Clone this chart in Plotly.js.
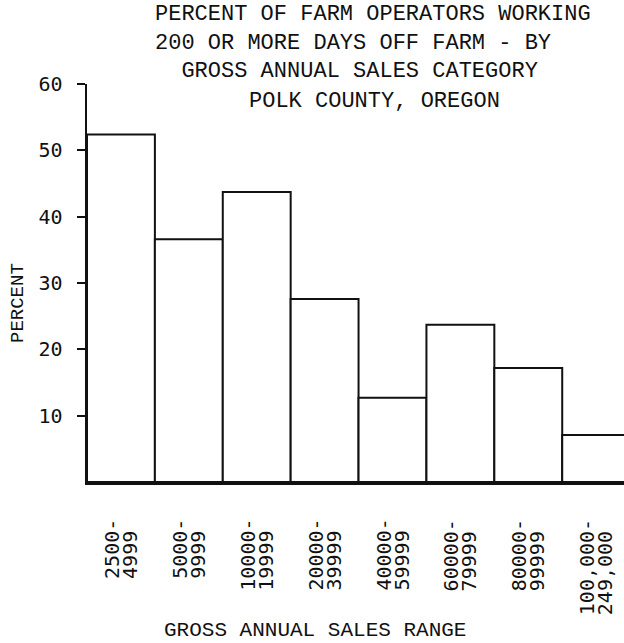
<!DOCTYPE html>
<html><head><meta charset="utf-8">
<script src="https://cdn.plot.ly/plotly-3.0.1.min.js"></script>
<style>html,body{margin:0;padding:0;background:#fff}</style>
</head><body><div id="chart" style="width:624px;height:643px"></div>
<script>
const categories = ["2500-4999","5000-9999","10000-19999","20000-39999","40000-59999","60000-79999","80000-99999","100,000-249,000"];
const percentValues = [52.4, 36.6, 43.7, 27.6, 12.7, 23.7, 17.2, 7.1];
const tickLabelTop = ["2500-","5000-","10000-","20000-","40000-","60000-","80000-","100,000-"];
const tickLabelBottom = ["4999","9999","19999","39999","59999","79999","99999","249,000"];
const yTickValues = [10,20,30,40,50,60];
const yTickText = ["10","20","30","40","50","60"];
const titleLines = ["PERCENT OF FARM OPERATORS WORKING","200 OR MORE DAYS OFF FARM - BY","\u00a0\u00a0GROSS ANNUAL SALES CATEGORY"];
const subtitle = "POLK COUNTY, OREGON";
const xTitle = "GROSS ANNUAL SALES RANGE";
const yTitle = "PERCENT";

const typeFont = {family: "Liberation Mono, Courier New, monospace", size: 22, color: "#111"};
const numFont = {family: "DejaVu Sans Mono, monospace", size: 20, color: "#111"};

// plot area in pixels: left 87, right 624, top 84, bottom 482
const L = 87, W = 537, T = 84, H = 398;
const px = x => (x - L) / W;
const py = y => (T + H - y) / H;

const annotations = [];
annotations.push({
  text: titleLines.join("<br>"), xref: "paper", yref: "paper", x: px(153), y: py(43),
  xanchor: "left", yanchor: "middle", align: "left", showarrow: false, font: typeFont
});
annotations.push({text: subtitle, xref: "paper", yref: "paper", x: px(247), y: py(102),
  xanchor: "left", yanchor: "middle", showarrow: false, font: typeFont});
annotations.push({text: xTitle, xref: "paper", yref: "paper", x: px(162), y: py(630),
  xanchor: "left", yanchor: "middle", showarrow: false,
  font: {family: typeFont.family, size: 21, color: "#111"}});
annotations.push({text: yTitle, xref: "paper", yref: "paper", x: px(18), y: py(303),
  xanchor: "center", yanchor: "middle", textangle: -90, showarrow: false,
  font: {family: typeFont.family, size: 19, color: "#111"}});

categories.forEach((c, i) => {
  const top = tickLabelTop[i];
  const bottom = tickLabelBottom[i].padEnd(top.length, "\u00a0");
  annotations.push({text: top, xref: "x", yref: "paper", x: c, xshift: -9, y: py(517),
    xanchor: "center", yanchor: "top", textangle: -90, showarrow: false, font: numFont});
  annotations.push({text: bottom, xref: "x", yref: "paper", x: c, xshift: 9, y: py(517),
    xanchor: "center", yanchor: "top", textangle: -90, showarrow: false, font: numFont});
});

const trace = {
  type: "bar", x: categories, y: percentValues,
  width: 1,
  marker: {color: "#ffffff", line: {color: "#111", width: 2}},
  hoverinfo: "skip"
};

const layout = {
  width: 624, height: 643,
  margin: {l: L, r: 624 - L - W, t: T, b: 643 - T - H, pad: 0},
  paper_bgcolor: "#fff", plot_bgcolor: "#fff",
  showlegend: false,
  bargap: 0,
  xaxis: {type: "category", range: [-0.5, 7.41], showticklabels: false, ticks: "",
    showgrid: false, zeroline: false, showline: true, linecolor: "#111", linewidth: 2.5},
  yaxis: {range: [0, 60], tickvals: yTickValues, ticktext: yTickText, ticks: "outside",
    ticklen: 8, tickwidth: 2, tickcolor: "#111", showgrid: false, zeroline: false,
    showline: true, linecolor: "#111", linewidth: 2.5, tickfont: numFont, ticklabelstandoff: 10},
  annotations: annotations
};

Plotly.newPlot("chart", [trace], layout, {displayModeBar: false, staticPlot: true});
</script></body></html>
